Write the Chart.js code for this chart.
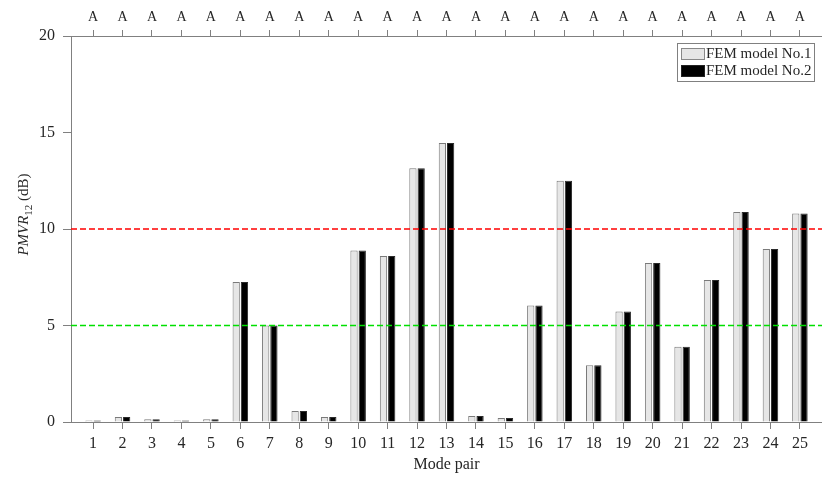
<!DOCTYPE html>
<html>
<head>
<meta charset="utf-8">
<script src="https://cdn.jsdelivr.net/npm/chart.js@4.4.1/dist/chart.umd.min.js"></script>
<style>
  html, body { margin: 0; padding: 0; background: #fff; }
  #wrap { width: 822px; height: 477px; }
</style>
</head>
<body>
<div id="wrap"><canvas id="myChart"></canvas></div>
<script>
// DATA
const modePairs = [1, 2, 3, 4, 5, 6, 7, 8, 9, 10, 11, 12, 13, 14, 15, 16, 17, 18, 19, 20, 21, 22, 23, 24, 25]
const model1 = [0.05, 0.26, 0.14, 0.05, 0.14, 7.25, 5.0, 0.57, 0.26, 8.88, 8.6, 13.15, 14.45, 0.31, 0.21, 6.03, 12.5, 2.94, 5.72, 8.24, 3.9, 7.36, 10.88, 8.97, 10.8]
const model2 = [0.05, 0.26, 0.14, 0.05, 0.14, 7.25, 5.0, 0.57, 0.26, 8.88, 8.6, 13.15, 14.45, 0.31, 0.21, 6.03, 12.5, 2.94, 5.72, 8.24, 3.9, 7.36, 10.88, 8.97, 10.8]
const seriesNames = ['FEM model No.1', 'FEM model No.2']
const redLevel = 10
const greenLevel = 5
const yTicks = [0, 5, 10, 15, 20]
const topLabel = 'A'
const xRange = [0.25, 25.75]

const axisColor = '#808080'
const textColor = '#262626'
const serif = '"Liberation Serif", "Times New Roman", serif'

function toPoints(vals) {
  return modePairs.map((m, i) => ({ x: m, y: vals[i] }))
}

// Y LABEL, LEGEND AND AXIS STUBS DRAWN BY HAND (mixed italic + subscript)
const extrasPlugin = {
  id: 'extras',
  afterDraw(chart) {
    const c = chart.ctx
    const area = chart.chartArea
    c.save()
    // x axis lines poke out a little left of the y axis
    c.strokeStyle = axisColor
    c.lineWidth = 1
    c.beginPath()
    c.moveTo(area.left - 8, Math.round(area.top) + 0.5)
    c.lineTo(area.left, Math.round(area.top) + 0.5)
    c.moveTo(area.left - 8, Math.round(area.bottom) + 0.5)
    c.lineTo(area.left, Math.round(area.bottom) + 0.5)
    c.stroke()

    // y axis title
    const parts = [
      { t: 'PMVR', f: 'italic 15px ' + serif, dy: 0 },
      { t: '12', f: '11px ' + serif, dy: 4 },
      { t: ' (dB)', f: '15px ' + serif, dy: 0 }
    ]
    let total = 0
    parts.forEach(p => { c.font = p.f; p.w = c.measureText(p.t).width; total += p.w })
    c.translate(28, 214.5)
    c.rotate(-Math.PI / 2)
    c.fillStyle = textColor
    c.textBaseline = 'alphabetic'
    let px = -total / 2
    parts.forEach(p => { c.font = p.f; c.fillText(p.t, px, p.dy); px += p.w })
    c.restore()

    // legend box
    c.save()
    c.fillStyle = '#fff'
    c.fillRect(677, 43.5, 138, 38)
    c.strokeStyle = axisColor
    c.lineWidth = 1
    c.strokeRect(677.5, 43.5, 137, 38)
    const sw = [{ fill: '#e6e6e6', stroke: '#888', y: 48 }, { fill: '#000', stroke: '#222', y: 65 }]
    c.font = '15px ' + serif
    c.textBaseline = 'middle'
    sw.forEach((s, i) => {
      c.fillStyle = s.fill
      c.fillRect(681, s.y, 24, 12)
      c.strokeStyle = s.stroke
      c.strokeRect(681.5, s.y + 0.5, 23, 11)
      c.fillStyle = textColor
      c.fillText(seriesNames[i], 706, s.y + 6.5)
    })
    c.restore()
  }
}

const ctx = document.getElementById('myChart').getContext('2d')
const myChart = new Chart(ctx, {
  type: 'bar',
  data: {
    datasets: [
      {
        type: 'line',
        data: [{ x: xRange[0], y: redLevel }, { x: xRange[1], y: redLevel }],
        borderColor: '#ff0000',
        borderWidth: 1.5,
        borderDash: [6, 3],
        pointRadius: 0,
        order: 0
      },
      {
        type: 'line',
        data: [{ x: xRange[0], y: greenLevel }, { x: xRange[1], y: greenLevel }],
        borderColor: '#00e000',
        borderWidth: 1.5,
        borderDash: [6, 3],
        pointRadius: 0,
        order: 0
      },
      {
        label: seriesNames[0],
        data: toPoints(model1),
        backgroundColor: '#e6e6e6',
        borderColor: '#7a7a7a',
        borderWidth: 1,
        minBarLength: 1.5,
        categoryPercentage: 0.56,
        barPercentage: 0.88,
        order: 1
      },
      {
        label: seriesNames[1],
        data: toPoints(model2),
        backgroundColor: '#000000',
        borderColor: '#2a2a2a',
        borderWidth: 1,
        minBarLength: 1.5,
        categoryPercentage: 0.56,
        barPercentage: 0.88,
        order: 1
      }
    ]
  },
  options: {
    responsive: true,
    maintainAspectRatio: false,
    animation: false,
    layout: { padding: 0 },
    plugins: { legend: { display: false }, tooltip: { enabled: false } },
    scales: {
      x: {
        type: 'linear',
        position: 'bottom',
        min: xRange[0],
        max: xRange[1],
        offset: false,
        afterBuildTicks: (s) => { s.ticks = modePairs.map(v => ({ value: v })) },
        afterFit: (s) => { s.height = 55 },
        ticks: { color: textColor, font: { family: serif, size: 16 }, padding: 5, maxRotation: 0, autoSkip: false },
        grid: { display: true, offset: false, drawOnChartArea: false, drawTicks: true, tickLength: 7, color: axisColor },
        border: { display: true, color: axisColor },
        title: { display: true, text: 'Mode pair', color: textColor, font: { family: serif, size: 16 }, padding: { top: 0, bottom: 3 } }
      },
      xTop: {
        type: 'linear',
        position: 'top',
        min: xRange[0],
        max: xRange[1],
        offset: false,
        afterBuildTicks: (s) => { s.ticks = modePairs.map(v => ({ value: v })) },
        afterFit: (s) => { s.height = 36 },
        ticks: { callback: () => topLabel, color: textColor, font: { family: serif, size: 14 }, padding: 4, maxRotation: 0, autoSkip: false },
        grid: { display: true, offset: false, drawOnChartArea: false, drawTicks: true, tickLength: 6, color: axisColor },
        border: { display: true, color: axisColor }
      },
      y: {
        min: 0,
        max: 20,
        afterBuildTicks: (s) => { s.ticks = yTicks.map(v => ({ value: v })) },
        afterFit: (s) => { s.width = 71 },
        ticks: { color: textColor, font: { family: serif, size: 16 }, padding: 8 },
        grid: { display: true, drawOnChartArea: false, drawTicks: true, tickLength: 8, color: axisColor },
        border: { display: true, color: axisColor }
      }
    }
  },
  plugins: [extrasPlugin]
})
</script>
</body>
</html>
